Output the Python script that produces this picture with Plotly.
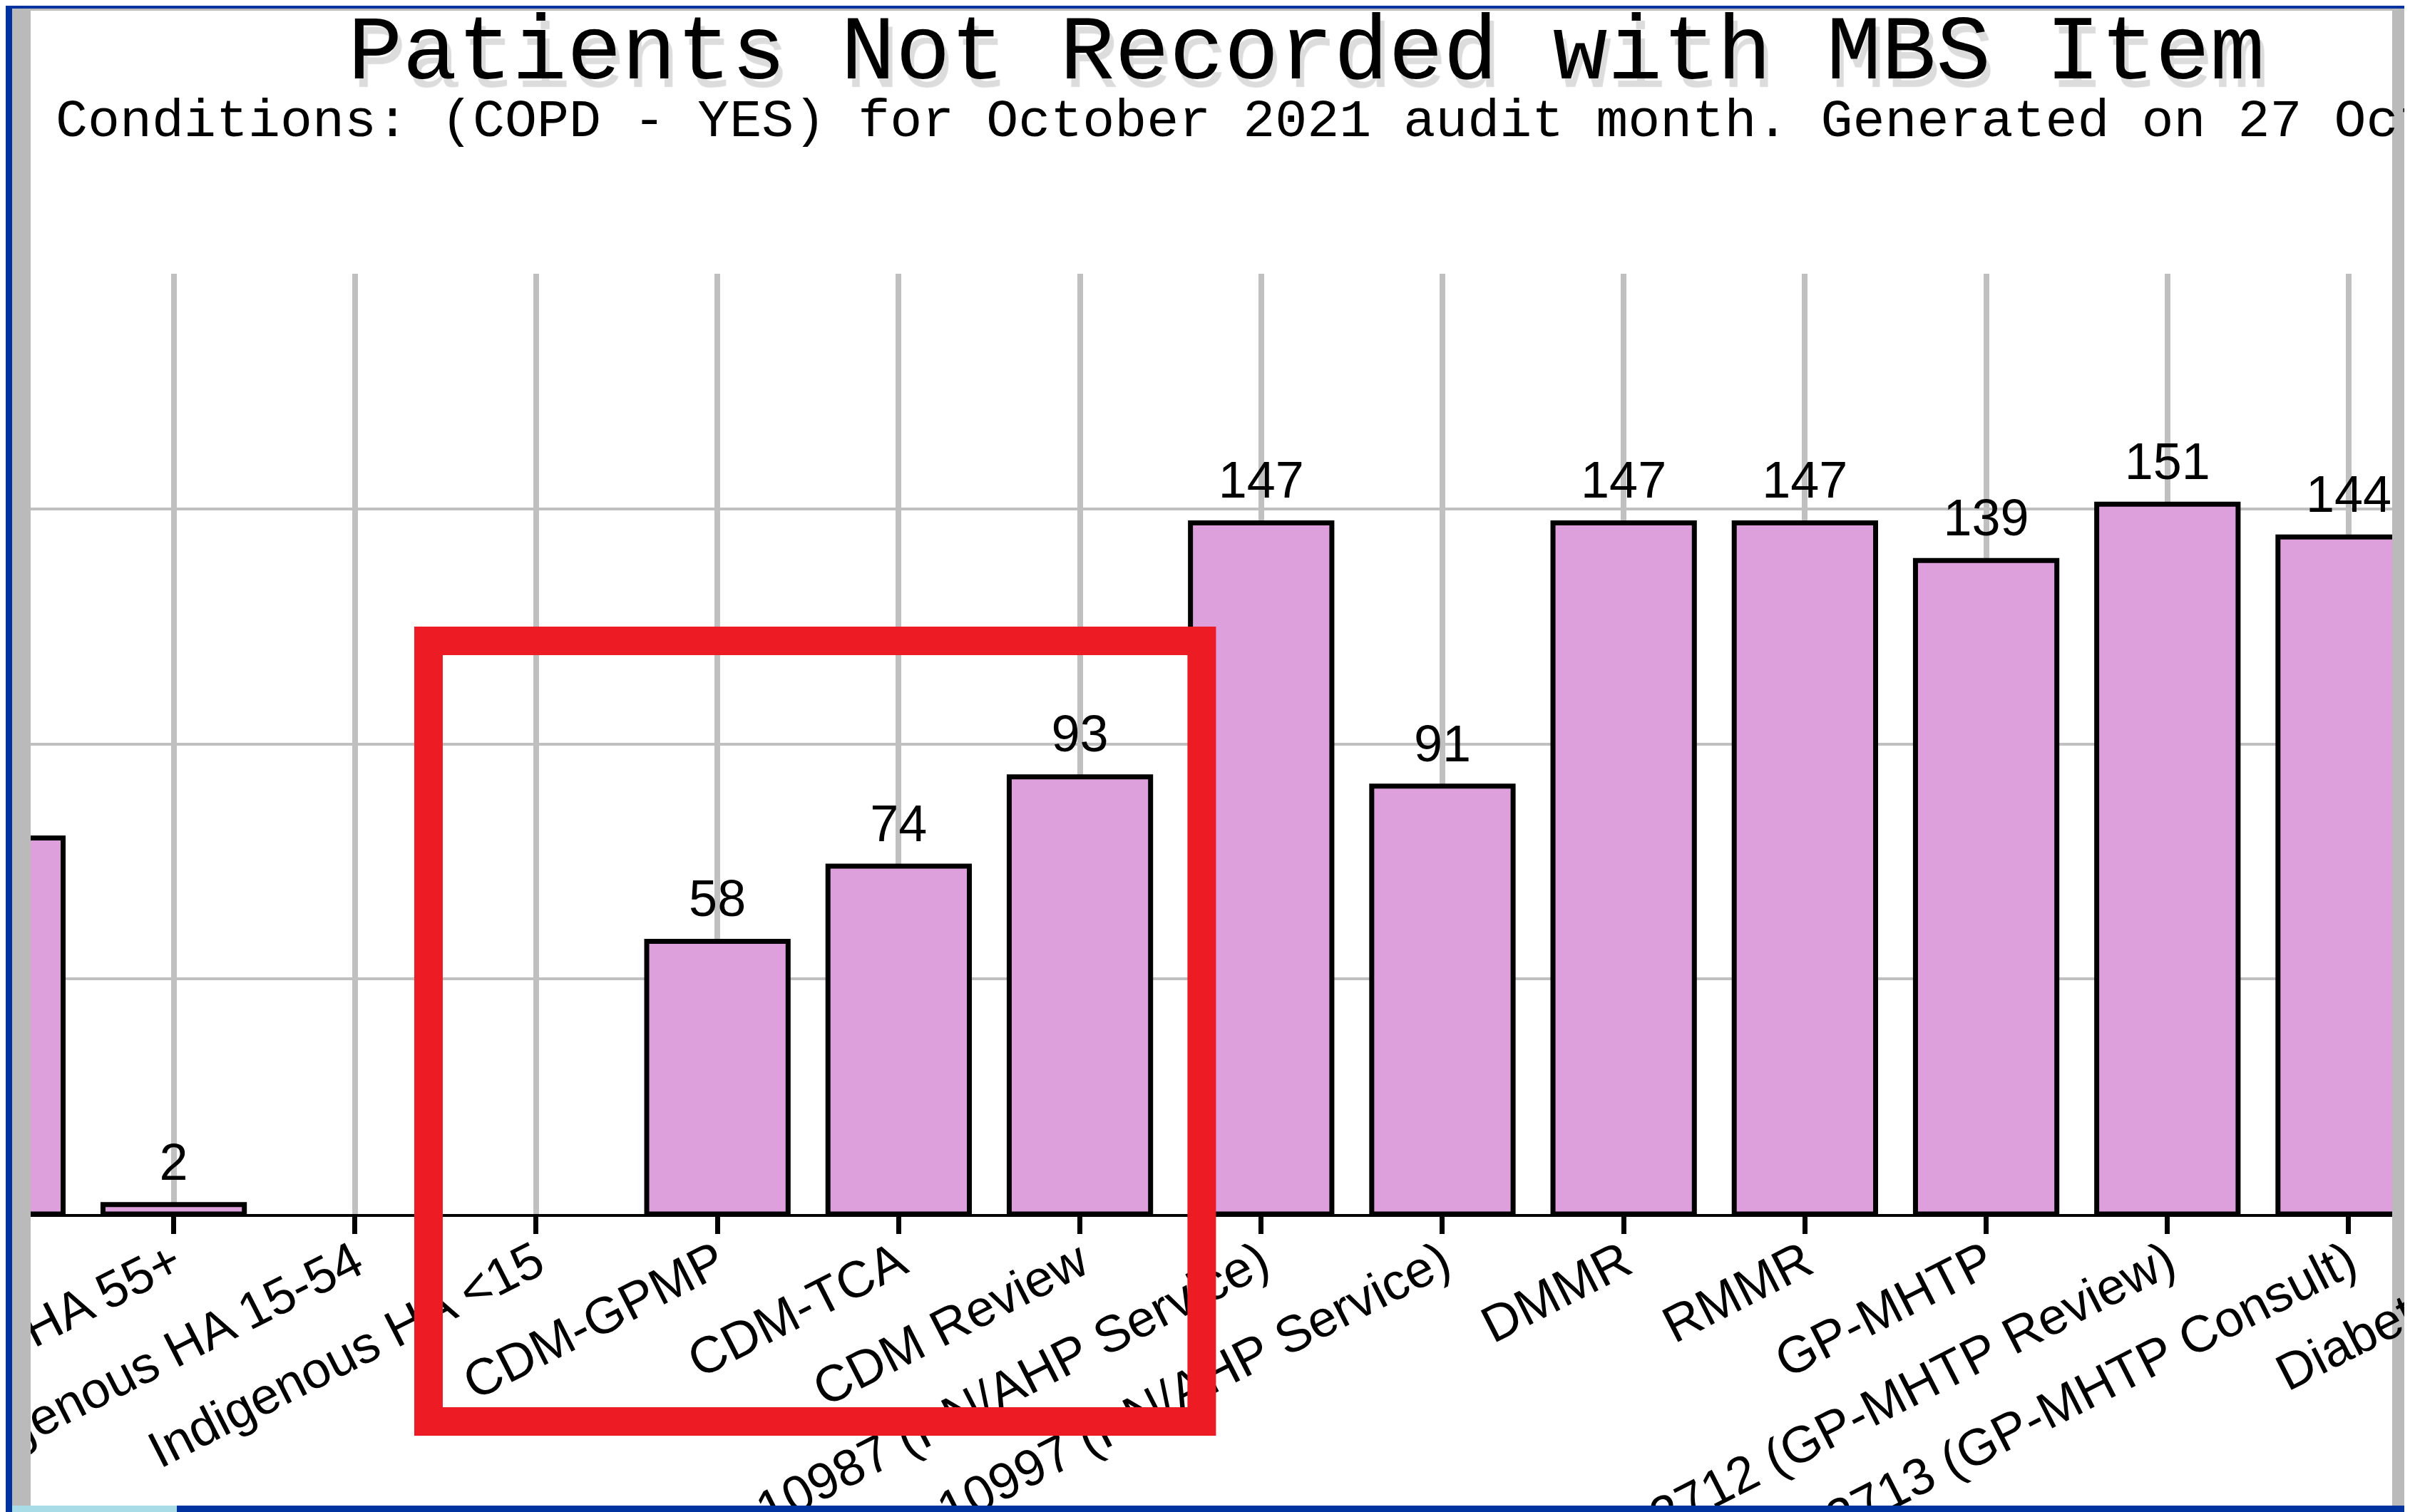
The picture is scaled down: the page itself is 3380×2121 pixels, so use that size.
import plotly.graph_objects as go

# ---- data ----
categories = [
    "HA 75+", "Indigenous HA 55+", "Indigenous HA 15-54", "Indigenous HA <15",
    "CDM-GPMP", "CDM-TCA", "CDM Review", "10987 (PN/AHP Service)",
    "10997 (PN/AHP Service)", "DMMR", "RMMR", "GP-MHTP",
    "2712 (GP-MHTP Review)", "2713 (GP-MHTP Consult)",
]
patients = [80, 2, 0, 0, 58, 74, 93, 147, 91, 147, 147, 139, 151, 144]
next_category = "Diabetes SIP"   # only its start shows at the right edge

title = "Patients Not Recorded with MBS Item"
subtitle = "Conditions: (COPD - YES) for October 2021 audit month. Generated on 27 Oct 2021"

# ---- page geometry (the picture is a crop of a bigger window) ----
W, H = 3380, 2121
OFF = 8                           # body margin of the html page
L, R, T, B = 35, 33, 376, 426
PW, PH = W - L - R, H - T - B
STEP = 254.2                      # px per category
x_lo = 0.211
x_hi = x_lo + PW / STEP


def px_x(px):
    # page pixel -> paper x
    return (px - OFF - L) / PW


def px_y(py):
    # page pixel -> paper y
    return (H - B - (py - OFF)) / PH


labels = [str(v) if v else "" for v in patients]
edge = [7 if v else 0 for v in patients]

fig = go.Figure()
fig.add_trace(go.Bar(
    x=categories, y=patients,
    marker=dict(color="#DDA0DD", line=dict(color="black", width=edge)),
    hoverinfo="skip",
))
fig.add_trace(go.Scatter(
    x=categories, y=patients, text=labels,
    mode="markers+text", textposition="top center",
    marker=dict(size=26, opacity=0),
    textfont=dict(family="Liberation Sans, Arial", size=72, color="black"),
    cliponaxis=True, hoverinfo="skip",
))

# window frame around the cropped chart
BLUE, GREY = "#0033A0", "#BABABA"
frame = [
    (0, 0, 17, H + OFF, BLUE),
    (17, 12, 43, 2112, GREY),
    (0, 0, W + OFF, 12, BLUE),
    (17, 12, 3372, 15, GREY),
    (3355, 12, 3372, 2112, GREY),
    (3372, 0, W + OFF, H + OFF, BLUE),
    (17, 2112, 248, H + OFF, "#A8DCE6"),
    (248, 2112, W + OFF, H + OFF, BLUE),
]
shapes = [
    dict(type="rect", xref="paper", yref="paper",
         x0=px_x(a), x1=px_x(c), y0=px_y(d), y1=px_y(b),
         fillcolor=col, line=dict(width=0), layer="above")
    for a, b, c, d, col in frame
]
# red highlight box around the CDM items
shapes.append(dict(
    type="rect", xref="x", yref="paper",
    x0=2.406, x1=6.672, y0=px_y(1994), y1=px_y(899),
    line=dict(color="#ED1C24", width=40), fillcolor="rgba(0,0,0,0)", layer="above",
))

fig.update_layout(
    template="none",
    width=W, height=H,
    margin=dict(l=L, r=R, t=T, b=B, pad=0),
    paper_bgcolor="white", plot_bgcolor="white",
    showlegend=False,
    bargap=0.22,
    title=dict(
        text=title, xref="paper", x=px_x(1832), xanchor="center",
        yref="container", y=1 - 57 / H, yanchor="middle",
        font=dict(family="Liberation Mono", size=128, color="black",
                  shadow="6px 12px 1px #dcdcdc"),
    ),
    shapes=shapes,
    annotations=[
        dict(text=subtitle, xref="paper", yref="paper",
             x=px_x(76), y=px_y(172), xanchor="left", yanchor="middle",
             showarrow=False,
             font=dict(family="Liberation Mono", size=75, color="black")),
        dict(text=next_category, xref="paper", yref="paper",
             x=px_x(3592), y=px_y(1701), xanchor="right", yanchor="top",
             textangle=-27, showarrow=False,
             font=dict(family="Liberation Sans, Arial", size=72, color="black")),
    ],
)
fig.update_xaxes(
    type="category", range=[x_lo, x_hi], automargin=False,
    tickangle=-27, tickfont=dict(family="Liberation Sans, Arial", size=72, color="black"),
    ticklabelstandoff=-30,
    ticks="outside", ticklen=24, tickwidth=7, tickcolor="black",
    showgrid=True, gridcolor="#C0C0C0", gridwidth=8,
    showline=True, linecolor="black", linewidth=4, zeroline=False,
)
fig.update_yaxes(
    range=[0, 200], dtick=50, automargin=False,
    showticklabels=False, ticks="",
    showgrid=True, gridcolor="#C0C0C0", gridwidth=4,
    showline=False, zeroline=False,
)

fig.write_html("out.html")
